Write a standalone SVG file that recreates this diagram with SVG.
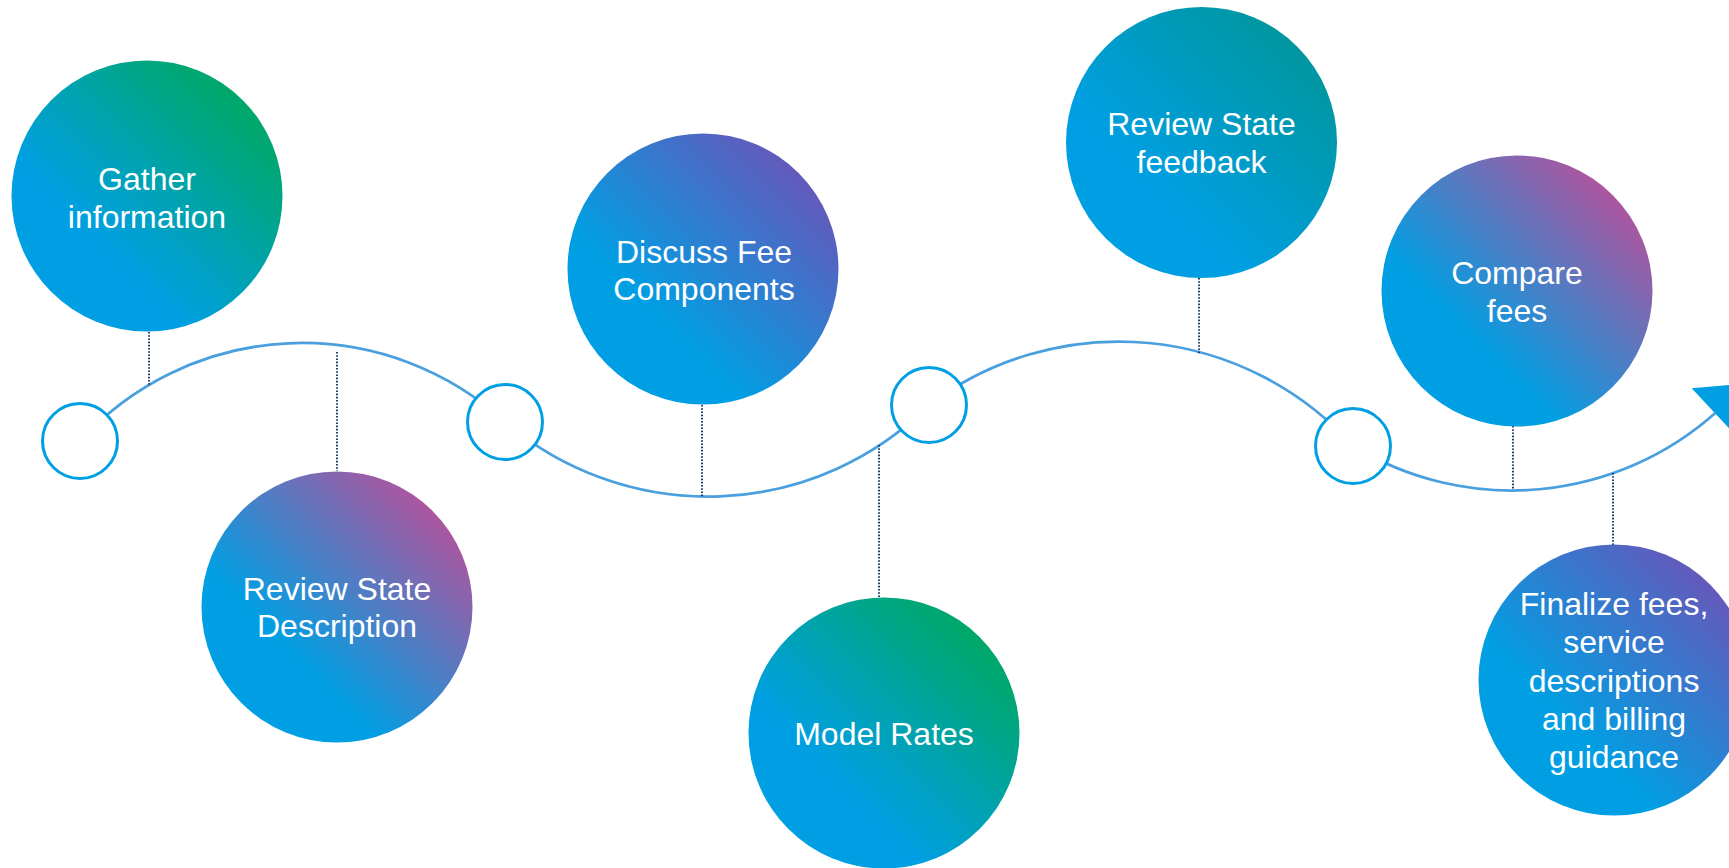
<svg xmlns="http://www.w3.org/2000/svg" width="1729" height="868" viewBox="0 0 1729 868">
<defs>
<linearGradient id="gGreen" x1="0" y1="1" x2="1" y2="0">
<stop offset="0.33" stop-color="#009FE3"/>
<stop offset="0.88" stop-color="#00A862"/>
</linearGradient>
<linearGradient id="gMagenta" x1="0" y1="1" x2="1" y2="0">
<stop offset="0.33" stop-color="#009FE3"/>
<stop offset="0.88" stop-color="#B4529C"/>
</linearGradient>
<linearGradient id="gPurple" x1="0" y1="1" x2="1" y2="0">
<stop offset="0.33" stop-color="#009FE3"/>
<stop offset="0.88" stop-color="#6856B9"/>
</linearGradient>
<linearGradient id="gTeal" x1="0" y1="1" x2="1" y2="0">
<stop offset="0.33" stop-color="#009FE3"/>
<stop offset="0.88" stop-color="#00969C"/>
</linearGradient>
</defs>
<style>
.wave{fill:none;stroke:#4A9FDF;stroke-width:2.75}
.dot{fill:none;stroke:#1F3F6E;stroke-width:2;stroke-dasharray:1.6 1.6}
.ring{fill:#FFFFFF;stroke:#009FE3;stroke-width:3}
.lbl{font-family:"Liberation Sans",Arial,sans-serif;font-size:32px;fill:#FFFFFF;text-anchor:middle}
</style>
<g id="connectors">
<path class="wave" d="M80,441 A300.4,300.4 0 0 1 505,422"/>
<path class="wave" d="M505,422 A312.9,312.9 0 0 0 929,405"/>
<path class="wave" d="M929,405 A315.1,315.1 0 0 1 1353,446"/>
<path class="wave" d="M1353,446 A305.9,305.9 0 0 0 1715,413.3"/>
<polygon points="1691.7,388.3 1738.2,438.2 1748.9,383.2" fill="#009FE3"/>
<line class="dot" x1="149" y1="332" x2="149" y2="385"/>
<line class="dot" x1="337" y1="352" x2="337" y2="471"/>
<line class="dot" x1="702" y1="405" x2="702" y2="497"/>
<line class="dot" x1="879" y1="445" x2="879" y2="598"/>
<line class="dot" x1="1199" y1="278" x2="1199" y2="354"/>
<line class="dot" x1="1513" y1="426" x2="1513" y2="490"/>
<line class="dot" x1="1613" y1="473" x2="1613" y2="545"/>
</g>
<g id="ring1"><circle class="ring" cx="80" cy="441" r="37.5"/></g>
<g id="ring2"><circle class="ring" cx="505" cy="422" r="37.5"/></g>
<g id="ring3"><circle class="ring" cx="929" cy="405" r="37.5"/></g>
<g id="ring4"><circle class="ring" cx="1353" cy="446" r="37.5"/></g>
<g id="gather">
<circle cx="147" cy="196" r="135.5" fill="url(#gGreen)"/>
<text class="lbl" x="147" y="190">Gather</text>
<text class="lbl" x="147" y="228">information</text>
</g>
<g id="review-description">
<circle cx="337" cy="607" r="135.5" fill="url(#gMagenta)"/>
<text class="lbl" x="337" y="600">Review State</text>
<text class="lbl" x="337" y="637">Description</text>
</g>
<g id="discuss-fee">
<circle cx="703" cy="269" r="135.5" fill="url(#gPurple)"/>
<text class="lbl" x="704" y="263">Discuss Fee</text>
<text class="lbl" x="704" y="300">Components</text>
</g>
<g id="model-rates">
<circle cx="884" cy="733" r="135.5" fill="url(#gGreen)"/>
<text class="lbl" x="884" y="745">Model Rates</text>
</g>
<g id="review-feedback">
<circle cx="1201.5" cy="142.5" r="135.5" fill="url(#gTeal)"/>
<text class="lbl" x="1201.5" y="135">Review State</text>
<text class="lbl" x="1201.5" y="173">feedback</text>
</g>
<g id="compare-fees">
<circle cx="1517" cy="291" r="135.5" fill="url(#gMagenta)"/>
<text class="lbl" x="1517" y="284">Compare</text>
<text class="lbl" x="1517" y="322">fees</text>
</g>
<g id="finalize">
<circle cx="1614" cy="680" r="135.5" fill="url(#gPurple)"/>
<text class="lbl" x="1614" y="615">Finalize fees,</text>
<text class="lbl" x="1614" y="653">service</text>
<text class="lbl" x="1614" y="691.5">descriptions</text>
<text class="lbl" x="1614" y="730">and billing</text>
<text class="lbl" x="1614" y="768">guidance</text>
</g>
</svg>
